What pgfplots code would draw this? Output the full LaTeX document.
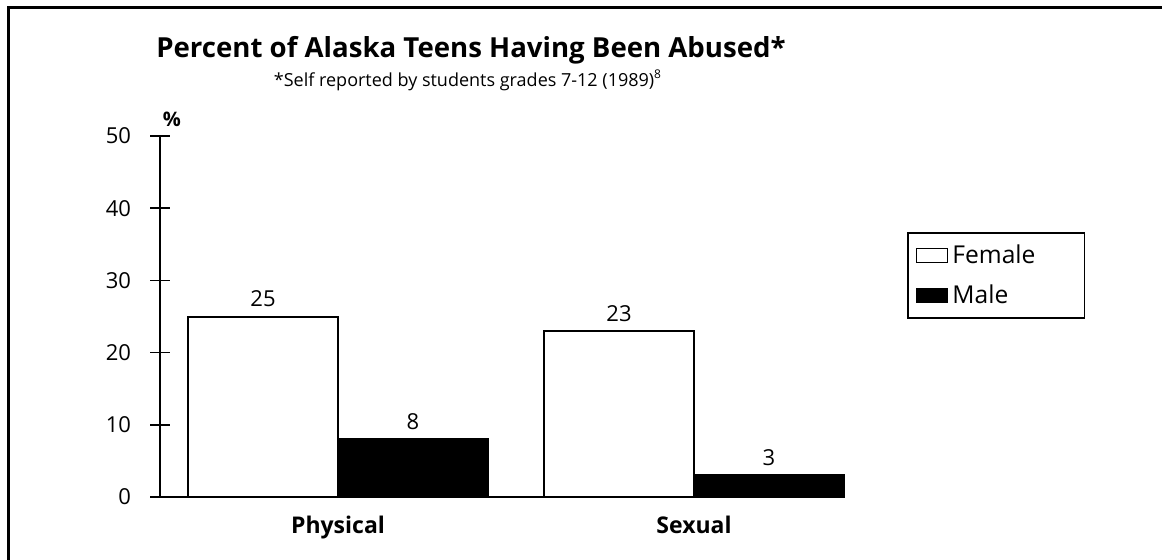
\documentclass[border=0pt]{standalone}
\usepackage{pgfplots}
\pgfplotsset{compat=1.18}
\usepackage{fontspec}
\setmainfont{Open Sans}
\begin{document}
\begin{tikzpicture}
\path[use as bounding box] (0,0) rectangle (581pt,279.5pt);
\clip (0,0) rectangle (581pt,279.5pt);
\draw[line width=1.5pt] (4pt,276pt) rectangle (600pt,-20pt);
\node[anchor=base, inner sep=0pt, font=\bfseries\fontsize{13.8}{16}\selectfont] at (235.5pt,251pt) {Percent of Alaska Teens Having Been Abused*};
\node[anchor=base, inner sep=0pt, font=\fontsize{9}{10}\selectfont] at (234pt,236.5pt) {*Self reported by students grades 7-12 (1989)\textsuperscript{8}};
\node[anchor=base, inner sep=0pt, font=\bfseries\fontsize{10}{12}\selectfont] at (86pt,216.5pt) {\%};
\begin{axis}[
  at={(80pt,31pt)}, anchor=south west,
  scale only axis, width=341.5pt, height=180.5pt,
  xmin=-0.5, xmax=1.4185, ymin=0, ymax=50,
  ybar=0pt, bar width=75pt,
  axis x line*=bottom, axis y line*=left,
  axis line style={-, line width=1pt},
  ytick={0,10,20,30,40,50},
  tick align=center, major tick length=10pt,
  ytick style={line width=0.8pt, black},
  xtick={0,1}, xticklabels={Physical,Sexual},
  xtick style={draw=none},
  xticklabel style={font=\bfseries\fontsize{11.5}{13}\selectfont, yshift=-1pt},
  yticklabel style={font=\fontsize{11}{13}\selectfont, xshift=-6pt},
  /pgf/number format/assume math mode=true,
  legend style={at={(1.094,0.734)}, anchor=north west, draw=black, line width=0.8pt,
    font=\fontsize{12.3}{14}\selectfont, row sep=5pt, inner xsep=4pt, inner ysep=4pt,
    text width=60pt},
  legend cell align=left,
  nodes near coords, every node near coord/.append style={font=\fontsize{11}{13}\selectfont, black, yshift=1pt},
  clip=false,
]
\addplot[fill=white, draw=black, line width=1pt,
  legend image code/.code={\draw[line width=0.7pt, fill=white, draw=black] (0pt,-3.5pt) rectangle (15.5pt,3.5pt);}]
  coordinates {(0,25) (1,23)};
\addlegendentry{Female}
\addplot[fill=black, draw=black, line width=1pt,
  legend image code/.code={\draw[line width=0.7pt, fill=black, draw=black] (0pt,-3.5pt) rectangle (15.5pt,3.5pt);}]
  coordinates {(0,8) (1,3)};
\addlegendentry{Male}
\end{axis}
\end{tikzpicture}
\end{document}
